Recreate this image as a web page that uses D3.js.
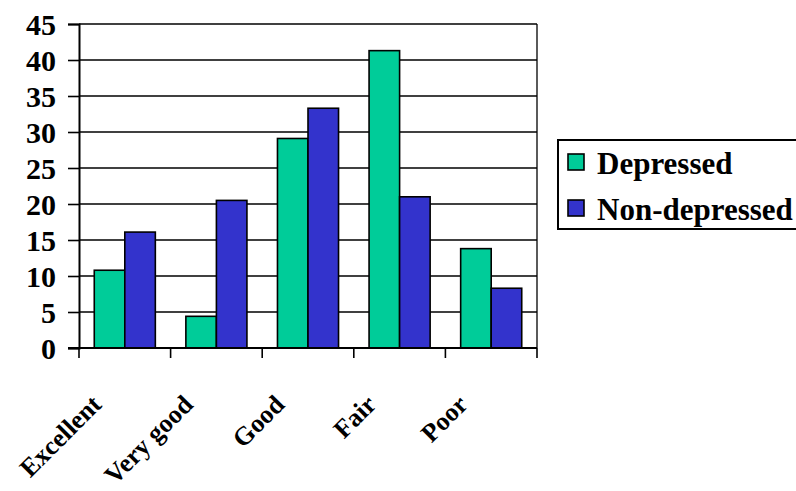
<!DOCTYPE html>
<html>
<head>
<meta charset="utf-8">
<script src="https://cdn.jsdelivr.net/npm/d3@7"></script>
<style>
  html, body { margin: 0; padding: 0; background: #fff; }
  svg { display: block; }
</style>
</head>
<body>
<svg id="chart" width="796" height="491"></svg>
<script>
const categories = ["Excellent", "Very good", "Good", "Fair", "Poor"];
const seriesNames = ["Depressed", "Non-depressed"];
const depressed = [10.8, 4.4, 29.1, 41.3, 13.8];
const nonDepressed = [16.1, 20.5, 33.3, 21.0, 8.3];
const yTicks = [0, 5, 10, 15, 20, 25, 30, 35, 40, 45];
const colors = ["#00CC99", "#3333CC"];
const FONT = "'Liberation Serif', 'Times New Roman', 'DejaVu Serif', serif";

const svg = d3.select("#chart");
const pLeft = 79, pRight = 537, pTop = 24, pBottom = 348;

const x0 = d3.scaleBand().domain(categories).range([pLeft, pRight]).paddingInner(0).paddingOuter(0);
const x1 = d3.scaleBand().domain(seriesNames).range([0, x0.bandwidth()]).paddingInner(0).paddingOuter(0.5);
const y = d3.scaleLinear().domain([0, 45]).range([pBottom, pTop]);

// gridlines
svg.append("g").selectAll("line").data(yTicks.filter(d => d > 0)).join("line")
  .attr("x1", pLeft).attr("x2", pRight)
  .attr("y1", d => y(d)).attr("y2", d => y(d))
  .attr("stroke", "#000").attr("stroke-width", 1.3);

// right border
svg.append("line").attr("x1", pRight).attr("x2", pRight).attr("y1", pTop).attr("y2", pBottom)
  .attr("stroke", "#000").attr("stroke-width", 1.3);

// bars
const data = categories.map((c, i) => ({ cat: c, vals: [
  { s: seriesNames[0], v: depressed[i], c: colors[0] },
  { s: seriesNames[1], v: nonDepressed[i], c: colors[1] }
]}));
const groups = svg.append("g").selectAll("g").data(data).join("g")
  .attr("transform", d => `translate(${x0(d.cat)},0)`);
groups.selectAll("rect").data(d => d.vals).join("rect")
  .attr("x", d => x1(d.s))
  .attr("width", x1.bandwidth())
  .attr("y", d => y(d.v))
  .attr("height", d => y(0) - y(d.v))
  .attr("fill", d => d.c)
  .attr("stroke", "#000").attr("stroke-width", 1.6);

// y axis
const yAxis = d3.axisLeft(y).tickValues(yTicks).tickSize(11).tickPadding(12);
const gy = svg.append("g").attr("transform", `translate(${pLeft},0)`).call(yAxis);
gy.select(".domain").attr("stroke", "#000").attr("stroke-width", 2);
gy.selectAll(".tick line").attr("stroke", "#000").attr("stroke-width", 1.6);
gy.selectAll(".tick text")
  .style("font-family", FONT).style("font-weight", "bold").style("font-size", "30px")
  .attr("fill", "#000").attr("dy", "0.36em");

// x axis
const tickPos = categories.map(c => x0(c)).concat([pRight]);
svg.append("line").attr("x1", pLeft - 11).attr("x2", pRight).attr("y1", pBottom).attr("y2", pBottom)
  .attr("stroke", "#000").attr("stroke-width", 2);
svg.append("g").selectAll("line").data(tickPos).join("line")
  .attr("x1", d => d).attr("x2", d => d).attr("y1", pBottom).attr("y2", pBottom + 10)
  .attr("stroke", "#000").attr("stroke-width", 1.6);

svg.append("g").selectAll("text").data(categories).join("text")
  .attr("transform", d => `translate(${x0(d) + x0.bandwidth() / 2 - 22},406) rotate(-45)`)
  .attr("text-anchor", "end")
  .style("font-family", FONT).style("font-weight", "bold").style("font-size", "26px")
  .text(d => d);

// legend
const lg = svg.append("g");
lg.append("rect").attr("x", 558).attr("y", 140).attr("width", 260).attr("height", 89)
  .attr("fill", "#fff").attr("stroke", "#000").attr("stroke-width", 2);
const items = lg.selectAll("g").data(seriesNames).join("g")
  .attr("transform", (d, i) => `translate(568,${154 + i * 46})`);
items.append("rect").attr("width", 16).attr("height", 16)
  .attr("fill", (d, i) => colors[i]).attr("stroke", "#000").attr("stroke-width", 1.6);
items.append("text").attr("x", 29).attr("y", 20)
  .style("font-family", FONT).style("font-weight", "bold").style("font-size", "31px")
  .text(d => d);
</script>
</body>
</html>
